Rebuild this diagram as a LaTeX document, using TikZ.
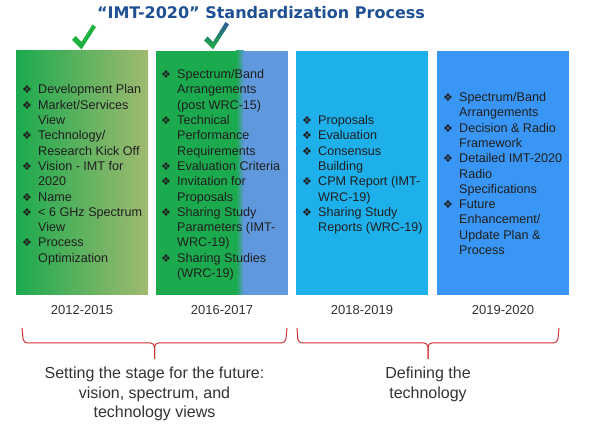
\documentclass[tikz,border=0pt]{standalone}
\usepackage{fontspec}
\setmainfont{Liberation Sans}
\newfontfamily\dejavu{DejaVu Sans}
\usetikzlibrary{positioning,calc}
\definecolor{titleblue}{RGB}{31,80,148}
\definecolor{stagegreen}{RGB}{28,170,78}
\definecolor{stageolive}{RGB}{160,186,112}
\definecolor{stageblue}{RGB}{96,152,222}
\definecolor{defcyan}{RGB}{30,176,235}
\definecolor{defblue}{RGB}{58,150,245}
\definecolor{tickgreen}{RGB}{32,178,62}
\definecolor{tickblue}{RGB}{40,88,150}
\definecolor{bracered}{RGB}{208,48,52}
\newcommand{\bul}{\makebox[16pt][l]{\dejavu\fontsize{11}{11}\selectfont ❖}}

\begin{document}
\begin{tikzpicture}[x=1pt, y=-1pt,
    box/.style={minimum width=132pt, minimum height=244pt, inner sep=0pt, outer sep=0pt},
    listtext/.style={inner sep=0pt, anchor=west, text=black!88, font=\fontsize{12.6}{15.3}\selectfont},
    yearlbl/.style={inner sep=0pt, text=black!80, font=\fontsize{13}{15}\selectfont},
    stagecap/.style={inner sep=0pt, align=center, text=black!80, font=\fontsize{16}{19.5}\selectfont},
    stagebrace/.style={draw=bracered, line width=1pt, rounded corners=4pt}]

\useasboundingbox (0,0) rectangle (600,438);

% Title
\node[inner sep=0pt, text=titleblue, font=\dejavu\bfseries\fontsize{16}{19}\selectfont] (title) at (261,13) {“IMT-2020” Standardization Process};

% Stage boxes
\node[box, left color=stagegreen, right color=stageolive] (b1) at (82,173) {};
\node[box, fill=stagegreen] (b2) at (222,173) {};
\shade[left color=stagegreen, right color=stageblue] ($(b2.north east)+(-52,0)$) rectangle ($(b2.south east)+(-44,0)$);
\fill[stageblue] ($(b2.north east)+(-44,0)$) rectangle (b2.south east);
\node[box, fill=defcyan] (b3) at (362,173) {};
\node[box, fill=defblue] (b4) at (503,173) {};

% Ticks above the finished stages
\fill[tickgreen] (72,40) -- (81.5,49.5) -- (96,27) -- (92.5,24.5) -- (81.5,42) -- (75.5,36) -- cycle;
\shade[top color=tickblue, middle color=tickgreen, bottom color=tickgreen]
    (204,40.5) -- (213,49.5) -- (229,24.5) -- (225.5,22) -- (213,42) -- (207.5,36.5) -- cycle;

% Box contents
\node[listtext] (l1) at ($(b1.west)+(6,2)$) {\begin{tabular}{@{}l@{}l@{}}
\bul & Development Plan\\
\bul & Market/Services\\
     & View\\
\bul & Technology/\\
     & Research Kick Off\\
\bul & Vision - IMT for\\
     & 2020\\
\bul & Name\\
\bul & < 6 GHz Spectrum\\
     & View\\
\bul & Process\\
     & Optimization
\end{tabular}};

\node[listtext] (l2) at ($(b2.west)+(5,2)$) {\begin{tabular}{@{}l@{}l@{}}
\bul & Spectrum/Band\\
     & Arrangements\\
     & (post WRC-15)\\
\bul & Technical\\
     & Performance\\
     & Requirements\\
\bul & Evaluation Criteria\\
\bul & Invitation for\\
     & Proposals\\
\bul & Sharing Study\\
     & Parameters (IMT-\\
     & WRC-19)\\
\bul & Sharing Studies\\
     & (WRC-19)
\end{tabular}};

\node[listtext] (l3) at ($(b3.west)+(6,2)$) {\begin{tabular}{@{}l@{}l@{}}
\bul & Proposals\\
\bul & Evaluation\\
\bul & Consensus\\
     & Building\\
\bul & CPM Report (IMT-\\
     & WRC-19)\\
\bul & Sharing Study\\
     & Reports (WRC-19)
\end{tabular}};

\node[listtext] (l4) at ($(b4.west)+(6,2)$) {\begin{tabular}{@{}l@{}l@{}}
\bul & Spectrum/Band\\
     & Arrangements\\
\bul & Decision \& Radio\\
     & Framework\\
\bul & Detailed IMT-2020\\
     & Radio\\
     & Specifications\\
\bul & Future\\
     & Enhancement/\\
     & Update Plan \&\\
     & Process
\end{tabular}};

% Years
\node[yearlbl, below=10pt of b1] (y1) {2012-2015};
\node[yearlbl, below=10pt of b2] (y2) {2016-2017};
\node[yearlbl, below=10pt of b3] (y3) {2018-2019};
\node[yearlbl, below=10pt of b4] (y4) {2019-2020};

% Braces
\coordinate (s1) at (22,328);
\coordinate (e1) at (287,328);
\coordinate (s2) at (297,328);
\coordinate (e2) at (559,328);
\coordinate (tip1) at (154.5,359);
\coordinate (tip2) at (428,359);
\draw[stagebrace] (s1) -- (23.5,343) -- (tip1 |- 0,343) -- (tip1);
\draw[stagebrace] (e1) -- (285.5,343) -- (tip1 |- 0,343) -- (tip1);
\draw[stagebrace] (s2) -- (298,343) -- (tip2 |- 0,343) -- (tip2);
\draw[stagebrace] (e2) -- (557.5,343) -- (tip2 |- 0,343) -- (tip2);

\node[stagecap, below=8pt of tip1] (cap1) {Setting the stage for the future:\\vision, spectrum, and\\technology views};
\node[stagecap, below=8pt of tip2] (cap2) {Defining the\\technology};

\end{tikzpicture}
\end{document}
